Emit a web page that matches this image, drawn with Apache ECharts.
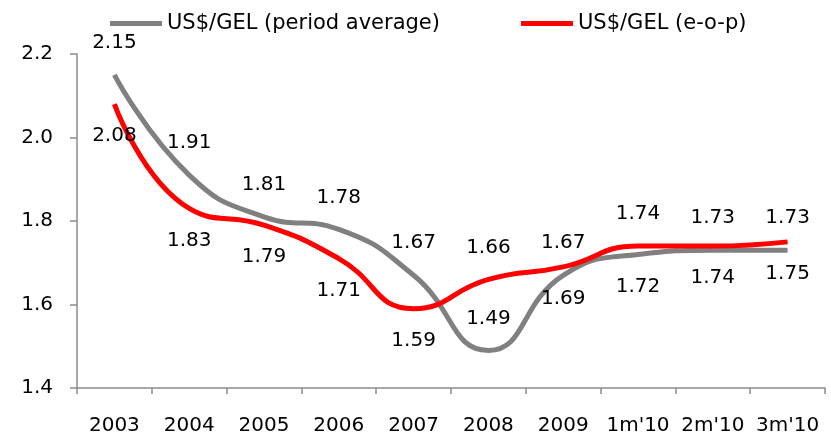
<!DOCTYPE html>
<html>
<head>
<meta charset="utf-8">
<script src="https://cdn.jsdelivr.net/npm/echarts@6/dist/echarts.min.js"></script>
<style>
  html, body { margin: 0; padding: 0; background: #fff; }
  #chart { width: 831px; height: 437px; }
</style>
</head>
<body>
<div id="chart"></div>
<script>
// categories and values
const categories = ["2003", "2004", "2005", "2006", "2007", "2008", "2009", "1m'10", "2m'10", "3m'10"];
const avgValues = [2.15, 1.91, 1.81, 1.78, 1.67, 1.49, 1.67, 1.72, 1.73, 1.73];
const eopValues = [2.08, 1.83, 1.79, 1.71, 1.59, 1.66, 1.69, 1.74, 1.74, 1.75];
// where each value label sits relative to its point
const avgLabelPos = ["top", "top", "top", "top", "top", "top", "top", "bottom", "top", "top"];
const eopLabelPos = ["bottom", "bottom", "bottom", "bottom", "bottom", "top", "bottom", "top", "bottom", "bottom"];
const yTicks = [1.4, 1.6, 1.8, 2.0, 2.2];

const font = "DejaVu Sans";

function withLabels(values, pos) {
  return values.map((v, i) => ({
    value: v,
    label: { position: pos[i] }
  }));
}

const chart = echarts.init(document.getElementById("chart"));
chart.setOption({
  animation: false,
  backgroundColor: "#fff",
  textStyle: { fontFamily: font },
  legend: {
    left: 105,
    top: 8,
    itemWidth: 52,
    itemHeight: 5,
    itemGap: 81,
    icon: "rect",
    textStyle: { fontFamily: font, fontSize: 21, color: "#000" },
    data: ["US$/GEL (period average)", "US$/GEL (e-o-p)"]
  },
  grid: { left: 77, right: 6, top: 54, bottom: 49 },
  xAxis: {
    type: "category",
    data: categories,
    boundaryGap: true,
    axisLine: { lineStyle: { color: "#8c8c8c", width: 1.5 } },
    axisTick: { show: true, length: 6, lineStyle: { color: "#8c8c8c", width: 1.5 } },
    axisLabel: { interval: 0, fontFamily: font, fontSize: 20, color: "#000", margin: 28 }
  },
  yAxis: {
    type: "value",
    min: yTicks[0],
    max: yTicks[yTicks.length - 1],
    interval: 0.2,
    splitLine: { show: false },
    axisLine: { show: true, lineStyle: { color: "#8c8c8c", width: 1.5 } },
    axisTick: { show: true, length: 7, lineStyle: { color: "#8c8c8c", width: 1.5 } },
    axisLabel: {
      fontFamily: font, fontSize: 20, color: "#000", margin: 24,
      formatter: (v) => v.toFixed(1)
    }
  },
  series: [
    {
      name: "US$/GEL (period average)",
      type: "line",
      smooth: 0.5,
      symbol: "circle",
      symbolSize: 0.1,
      showSymbol: true,
      color: "#808080",
      lineStyle: { color: "#808080", width: 5 },
      label: {
        show: true, distance: 22, fontFamily: font, fontSize: 20, color: "#000",
        formatter: (p) => p.value.toFixed(2)
      },
      data: withLabels(avgValues, avgLabelPos),
      z: 2
    },
    {
      name: "US$/GEL (e-o-p)",
      type: "line",
      smooth: 0.5,
      symbol: "circle",
      symbolSize: 0.1,
      showSymbol: true,
      color: "#ff0000",
      lineStyle: { color: "#ff0000", width: 5 },
      label: {
        show: true, distance: 22, fontFamily: font, fontSize: 20, color: "#000",
        formatter: (p) => p.value.toFixed(2)
      },
      data: withLabels(eopValues, eopLabelPos),
      z: 3
    }
  ]
});
</script>
</body>
</html>
